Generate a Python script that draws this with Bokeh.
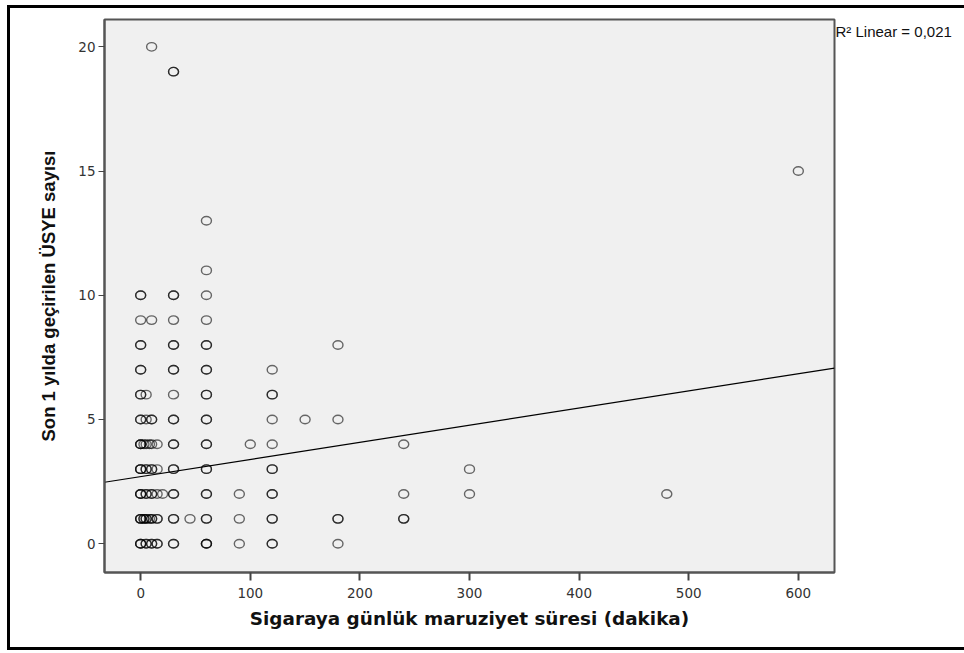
import numpy as np
from bokeh.plotting import figure
from bokeh.models import Range1d, FixedTicker, ColumnDataSource, LinearAxis
from bokeh.embed import file_html
from bokeh.resources import INLINE

# ---- data: (exposure minutes, URTI count, number of overlapping cases) ----
exposure_min = [
    0, 0, 0, 0, 0, 0, 0, 0, 0, 0, 0,
    3, 3,
    5, 5, 5, 5, 5, 5, 5,
    8, 8,
    10, 10, 10, 10, 10, 10, 10, 10,
    15, 15, 15, 15, 15,
    20,
    30, 30, 30, 30, 30, 30, 30, 30, 30, 30, 30, 30,
    45,
    60, 60, 60, 60, 60, 60, 60, 60, 60, 60, 60, 60, 60,
    90, 90, 90,
    100,
    120, 120, 120, 120, 120, 120, 120, 120,
    150,
    180, 180, 180, 180,
    240, 240, 240,
    300, 300,
    480,
    600,
]
urti_count = [
    0, 1, 2, 3, 4, 5, 6, 7, 8, 9, 10,
    1, 4,
    0, 1, 2, 3, 4, 5, 6,
    1, 4,
    0, 1, 2, 3, 4, 5, 9, 20,
    0, 1, 2, 3, 4,
    2,
    0, 1, 2, 3, 4, 5, 6, 7, 8, 9, 10, 19,
    1,
    0, 1, 2, 3, 4, 5, 6, 7, 8, 9, 10, 11, 13,
    0, 1, 2,
    4,
    0, 1, 2, 3, 4, 5, 6, 7,
    5,
    0, 1, 5, 8,
    1, 2, 4,
    2, 3,
    2,
    15,
]
n_cases = [
    3, 3, 3, 3, 3, 2, 2, 2, 2, 1, 2,
    2, 1,
    2, 2, 2, 2, 1, 1, 1,
    1, 1,
    2, 2, 2, 2, 1, 2, 1, 1,
    2, 2, 1, 1, 1,
    1,
    2, 2, 2, 2, 2, 2, 1, 2, 2, 1, 2, 2,
    1,
    3, 2, 2, 2, 2, 2, 2, 2, 2, 1, 1, 1, 1,
    1, 1, 1,
    1,
    2, 2, 2, 2, 1, 1, 2, 1,
    1,
    1, 2, 1, 1,
    2, 1, 1,
    1, 1,
    1,
    1,
]
fit_intercept = 2.70
fit_slope = 0.0069
r2_text = "R\u00b2 Linear = 0,021"
r2_anchor_y = 20.6
x_ticks = [0, 100, 200, 300, 400, 500, 600]
y_ticks = [0, 5, 10, 15, 20]
x_title = "Sigaraya günlük maruziyet süresi (dakika)"
y_title = "Son 1 yılda geçirilen ÜSYE sayısı"

x_lo, x_hi = -33, 633
y_lo, y_hi = -1.16, 21.1

xs = np.repeat(np.array(exposure_min, dtype=float), n_cases)
ys = np.repeat(np.array(urti_count, dtype=float), n_cases)

p = figure(width=957, height=639,
           x_range=Range1d(x_lo, x_hi), y_range=Range1d(y_lo, y_hi),
           output_backend="svg", toolbar_location=None,
           min_border_left=94, min_border_top=11,
           min_border_right=136, min_border_bottom=81)
p.styles = {"box-sizing": "content-box", "margin-left": "7px", "margin-top": "5px",
            "border-top": "3px solid black", "border-left": "3px solid black",
            "border-bottom": "3px solid black", "border-right": "none"}

p.background_fill_color = "#f0f0f0"
p.border_fill_color = "white"
p.outline_line_color = "#555555"
p.outline_line_width = 2
p.grid.visible = False

p.xaxis.ticker = FixedTicker(ticks=x_ticks)
p.yaxis.ticker = FixedTicker(ticks=y_ticks)
for ax in (p.xaxis[0], p.yaxis[0]):
    ax.axis_line_color = "#555555"
    ax.axis_line_width = 2
    ax.major_tick_line_color = "#444444"
    ax.minor_tick_line_color = None
    ax.major_tick_in = 0
    ax.major_label_text_font = "DejaVu Sans"
    ax.major_label_text_font_size = "13.5px"
    ax.major_label_text_color = "#333333"

p.xaxis.major_tick_out = 8
p.xaxis.major_tick_line_width = 2
p.xaxis.major_label_standoff = 7
p.yaxis.major_tick_out = 6
p.yaxis.major_tick_line_width = 1
p.yaxis.major_label_standoff = 3

p.xaxis.axis_label = x_title
p.xaxis.axis_label_text_font = "DejaVu Sans"
p.xaxis.axis_label_text_font_style = "bold"
p.xaxis.axis_label_text_font_size = "18.4px"
p.xaxis.axis_label_text_color = "#111111"
p.xaxis.axis_label_standoff = 7

p.yaxis.axis_label = y_title
p.yaxis.axis_label_text_font = "Liberation Sans"
p.yaxis.axis_label_text_font_style = "bold"
p.yaxis.axis_label_text_font_size = "18.5px"
p.yaxis.axis_label_text_color = "#111111"
p.yaxis.axis_label_standoff = 16

# right-side annotation of the fit quality, placed as a tick label
r2_axis = LinearAxis(ticker=FixedTicker(ticks=[r2_anchor_y]),
                     major_label_overrides={r2_anchor_y: r2_text})
r2_axis.axis_line_color = None
r2_axis.major_tick_line_color = None
r2_axis.minor_tick_line_color = None
r2_axis.major_tick_out = 0
r2_axis.major_tick_in = 0
r2_axis.major_label_standoff = 1
r2_axis.major_label_text_font = "Liberation Sans"
r2_axis.major_label_text_font_size = "15px"
r2_axis.major_label_text_color = "#111111"
p.add_layout(r2_axis, "right")

src = ColumnDataSource(dict(x=xs, y=ys))
p.ellipse("x", "y", source=src, width=10, height=8.5,
          width_units="screen", height_units="screen",
          fill_color=None, line_color="black", line_alpha=0.58, line_width=1.4)

fit_x = np.array([x_lo, x_hi], dtype=float)
fit_y = fit_intercept + fit_slope * fit_x
p.line(fit_x, fit_y, line_color="black", line_width=1.2)

open("out.html", "w").write(file_html(p, INLINE))
